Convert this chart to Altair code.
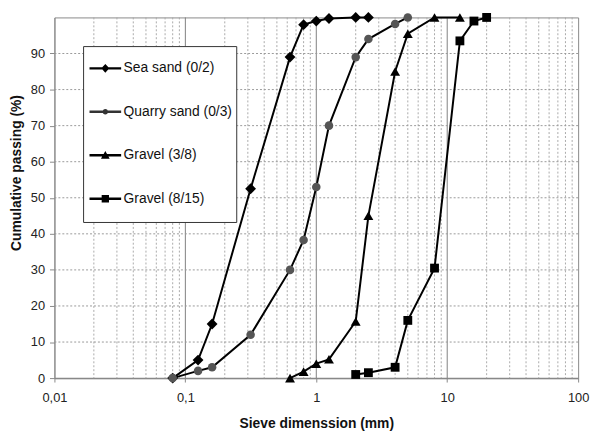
import altair as alt
import pandas as pd

FONT = "Liberation Sans"

series_names = ["Sea sand (0/2)", "Quarry sand (0/3)", "Gravel (3/8)", "Gravel (8/15)"]

sea_size = [0.08, 0.125, 0.16, 0.315, 0.63, 0.8, 1, 1.25, 2, 2.5]
sea_pass = [0, 5, 15, 52.5, 89, 98, 99, 99.7, 100, 100]

quarry_size = [0.08, 0.125, 0.16, 0.315, 0.63, 0.8, 1, 1.25, 2, 2.5, 4, 5]
quarry_pass = [0, 2, 3, 12, 30, 38.3, 53, 70, 89, 94, 98.2, 100]

g38_size = [0.63, 0.8, 1, 1.25, 2, 2.5, 4, 5, 8, 12.5]
g38_pass = [0, 1.8, 4, 5.2, 15.7, 45, 85, 95.5, 100, 100]

g815_size = [2, 2.5, 4, 5, 8, 12.5, 16, 20]
g815_pass = [1, 1.5, 3, 16, 30.5, 93.5, 99, 100]

x_ticks = [0.01, 0.1, 1, 10, 100]
y_ticks = [0, 10, 20, 30, 40, 50, 60, 70, 80, 90]
major_grid = [0.1, 1, 10]
minor_mult = [2, 3, 4, 5, 6, 7, 8, 9]
decades = [0.01, 0.1, 1, 10]
h_grid = [10, 20, 30, 40, 50, 60, 70, 80, 90]

marker_shapes = ["diamond", "circle", "triangle-up", "square"]
marker_colors = ["#000000", "#555555", "#000000", "#000000"]
legend_colors = ["#000000", "#333333", "#000000", "#000000"]
marker_sizes = [120, 75, 100, 80]

# legend glyphs: line (thin filled bar) + marker, plus an invisible point to extend bounds
LINE = "M-0.865,-0.065H0.865V0.065H-0.865Z"
EXT = "M0,1.05L0,1.05"
legend_paths = [
    LINE + "M-0.22,0L0,-0.24L0.22,0L0,0.24Z" + EXT,
    LINE + "M-0.15,0A0.15,0.15 0 1,1 0.15,0A0.15,0.15 0 1,1 -0.15,0Z" + EXT,
    LINE + "M-0.24,0.19L0,-0.24L0.24,0.19Z" + EXT,
    LINE + "M-0.2,-0.2H0.2V0.2H-0.2Z" + EXT,
]

rows = []
for name, xs, ys in zip(series_names,
                        [sea_size, quarry_size, g38_size, g815_size],
                        [sea_pass, quarry_pass, g38_pass, g815_pass]):
    for i, (xv, yv) in enumerate(zip(xs, ys)):
        rows.append({"series": name, "size": xv, "passing": yv, "order": i})
df = pd.DataFrame(rows)

minor_df = pd.DataFrame({"v": [m * d for d in decades for m in minor_mult]})
major_df = pd.DataFrame({"v": major_grid})
hgrid_df = pd.DataFrame({"v": h_grid})

xscale = alt.Scale(type="log", domain=[0.01, 100], nice=False)
yscale = alt.Scale(domain=[0, 100], nice=False, zero=True)

XT = "Sieve dimenssion (mm)"
YT = "Cumulative passing (%)"

x_axis = alt.Axis(
    values=x_ticks,
    labelExpr="replace(toString(datum.value), '.', ',')",
    grid=False, tickSize=4, tickColor="#888888", domainColor="#888888",
    domainWidth=1.5, labelFontSize=13, labelFont=FONT, labelColor="#222222",
    labelPadding=10, labelFlush=False,
    title=XT, titleFont=FONT, titleFontSize=14,
    titleFontWeight="bold", titleColor="#111111", titleBaseline="alphabetic",
    titleY=49.5, titleX=265,
)
y_axis = alt.Axis(
    values=y_ticks, grid=False, tickSize=5, tickColor="#888888",
    domainColor="#888888", labelFontSize=13, labelFont=FONT,
    labelColor="#222222", labelPadding=5,
    title=YT, titleFont=FONT, titleFontSize=14,
    titleFontWeight="bold", titleColor="#111111", titleAngle=270,
    titleAlign="center", titleBaseline="middle", titleX=-38, titleY=157,
)

X = alt.X("size:Q", scale=xscale, axis=x_axis, title=XT)
Y = alt.Y("passing:Q", scale=yscale, axis=y_axis, title=YT)

minor = alt.Chart(minor_df).mark_rule(
    color="#aaaaaa", strokeDash=[2, 2], strokeWidth=1
).encode(x=alt.X("v:Q", scale=xscale, axis=x_axis, title=XT))

major = alt.Chart(major_df).mark_rule(
    color="#808080", strokeWidth=1
).encode(x=alt.X("v:Q", scale=xscale, axis=x_axis, title=XT))

hgrid = alt.Chart(hgrid_df).mark_rule(
    color="#999999", strokeDash=[2, 2], strokeWidth=1
).encode(y=alt.Y("v:Q", scale=yscale, axis=y_axis, title=YT))

lines = alt.Chart(df).mark_line(color="black", strokeWidth=2).encode(
    x=X, y=Y, detail="series:N", order="order:Q",
)

point_layers = []
for name, shp, col, sz in zip(series_names, marker_shapes, marker_colors, marker_sizes):
    point_layers.append(
        alt.Chart(df).transform_filter(alt.datum.series == name)
        .mark_point(shape=shp, filled=True, color=col, size=sz, opacity=1)
        .encode(x=X, y=Y)
    )

legend_kw = dict(
    title=None, orient="none", legendX=29, legendY=29,
    fillColor="white", strokeColor="#333333", padding=4,
    symbolSize=1369, symbolStrokeWidth=0,
    symbolOpacity=1, symbolOffset=0,
    labelFont=FONT, labelFontSize=14, labelColor="#111111", labelOffset=0,
    rowPadding=6, labelLimit=200,
)

legend_layer = alt.Chart(df).mark_point(filled=True, opacity=0).encode(
    x=X, y=Y,
    shape=alt.Shape("series:N", scale=alt.Scale(domain=series_names, range=legend_paths),
                    legend=alt.Legend(**legend_kw)),
    fill=alt.Fill("series:N", scale=alt.Scale(domain=series_names, range=legend_colors),
                  legend=alt.Legend(**legend_kw)),
)

chart = alt.layer(minor, major, hgrid, lines, *point_layers, legend_layer).properties(
    width=530, height=365,
    background="white",
    autosize=alt.AutoSizeParams(type="none"),
    padding={"left": 47, "top": 7, "right": 12, "bottom": 52},
).configure_view(stroke="#888888", strokeWidth=1)

chart.save("out.html", embed_options={"renderer": "svg", "actions": False})
